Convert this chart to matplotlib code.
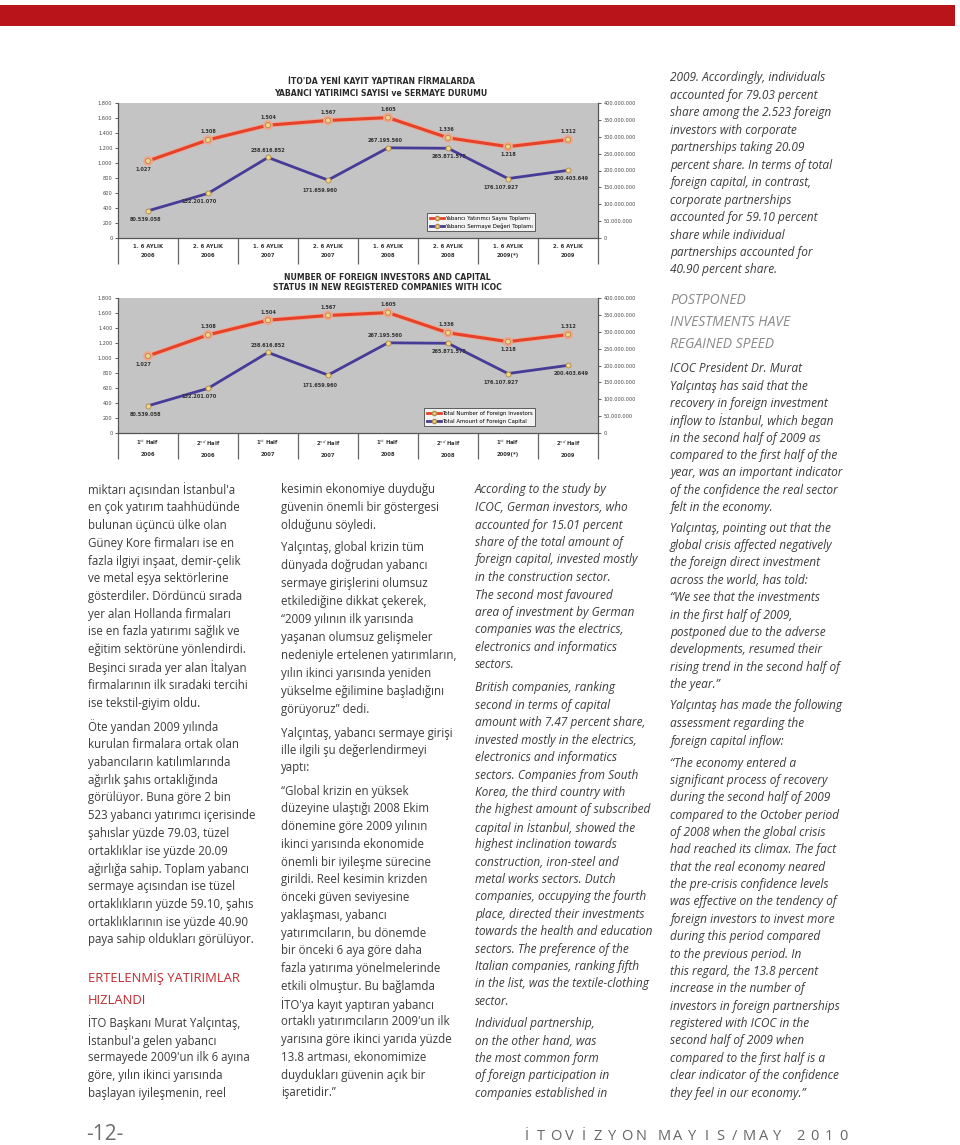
import matplotlib
matplotlib.use('Agg')
import matplotlib.pyplot as plt
from matplotlib.patches import Rectangle
from matplotlib.lines import Line2D
import matplotlib.patheffects as pe
import numpy as np

W, H = 960, 1145

# ---- chart data ----
periods_tr = ['1. 6 AYLIK\n2006', '2. 6 AYLIK\n2006', '1. 6 AYLIK\n2007', '2. 6 AYLIK\n2007',
              '1. 6 AYLIK\n2008', '2. 6 AYLIK\n2008', '1. 6 AYLIK\n2009(*)', '2. 6 AYLIK\n2009']
periods_en = [r'1$^{st}$ Half' + '\n2006', r'2$^{nd}$ Half' + '\n2006', r'1$^{st}$ Half' + '\n2007',
              r'2$^{nd}$ Half' + '\n2007', r'1$^{st}$ Half' + '\n2008', r'2$^{nd}$ Half' + '\n2008',
              r'1$^{st}$ Half' + '\n2009(*)', r'2$^{nd}$ Half' + '\n2009']
investors = [1027, 1308, 1504, 1567, 1605, 1336, 1218, 1312]
capital = [80539058, 132201070, 238616852, 171659960, 267195560, 265871575, 176107927, 200403649]

legend_tr = ['Yabancı Yatırımcı Sayısı Toplamı', 'Yabancı Sermaye Değeri Toplamı']
legend_en = ['Total Number of Foreign Investors', 'Total Amount of Foreign Capital']
title_tr = ["İTO'DA YENİ KAYIT YAPTIRAN FİRMALARDA", 'YABANCI YATIRIMCI SAYISI ve SERMAYE DURUMU']
title_en = ['NUMBER OF FOREIGN INVESTORS AND CAPITAL', 'STATUS IN NEW REGISTERED COMPANIES WITH ICOC']

# label offsets in pixels (dx, dy up)
red_off = [(-5, -9), (0, 8), (0, 8), (0, 8), (0, 8), (-2, 8), (0, -8), (0, 8)]
blue_off = [(-2, -9), (-9, -8), (0, 7), (-8, -10), (-3, 7), (1, -8), (-7, -9), (3, -8)]

RED = '#e4432a'
BLUE = '#463c98'
TXT = '#3c3c3c'
FONT = ['Open Sans', 'DejaVu Sans']


def fx(x):
    return x / W


def fy(y):
    return 1 - y / H


def dots(v):
    return f'{v:,}'.replace(',', '.')


fig = plt.figure(figsize=(W / 100, H / 100), dpi=100)
fig.patch.set_facecolor('white')

# red band at top
fig.add_artist(Rectangle((0, fy(26)), fx(955), 21 / H, transform=fig.transFigure,
                         facecolor='#b8141a', edgecolor='none'))


def draw_chart(top, title, title_y, xlabels, leg_labels, title_x):
    ax = fig.add_axes([fx(118), fy(top + 135), 480 / W, 135 / H])
    ax.set_facecolor('#c4c4c4')
    x = np.arange(len(investors))
    ax.plot(x, investors, color=RED, lw=2.2, marker='o', ms=3.6, mfc='#efd58c',
            mec='#b08a48', mew=0.6, zorder=3,
            path_effects=[pe.Stroke(linewidth=3.4, foreground='#f3a48e'), pe.Normal()])
    ax.set_ylim(0, 1800)
    ax.set_xlim(-0.5, 7.5)
    ax.set_yticks(np.arange(0, 1801, 200))
    ax.set_yticklabels([dots(v) for v in range(0, 1801, 200)])
    ax.set_xticks(x)
    ax.set_xticklabels(xlabels, fontsize=3.8, fontweight='bold', color='#333', linespacing=2.2)
    ax.set_xticks(np.arange(-0.5, 8), minor=True)
    ax.tick_params(axis='x', which='major', length=0, pad=4)
    ax.tick_params(axis='x', which='minor', length=19, width=0.9, color='#666')
    ax.tick_params(axis='y', labelsize=3.6, colors='#444', length=2.5, width=0.6, pad=1.5)
    for s in ['top', 'right']:
        ax.spines[s].set_visible(False)
    for s in ['left', 'bottom']:
        ax.spines[s].set_color('#555')
        ax.spines[s].set_linewidth(0.9)
    for i, v in enumerate(investors):
        ax.annotate(dots(v), (i, v), xytext=(red_off[i][0] * 0.72, red_off[i][1] * 0.72),
                    textcoords='offset points', ha='center', va='center',
                    fontsize=3.6, color='#333', fontweight='bold')

    ax2 = ax.twinx()
    ax2.plot(x, capital, color=BLUE, lw=2.0, marker='o', ms=3.6, mfc='#efd58c',
             mec='#b08a48', mew=0.6, zorder=3)
    ax2.set_ylim(0, 4e8)
    ax2.set_yticks(np.arange(0, 4e8 + 1, 5e7))
    ax2.set_yticklabels([dots(int(v)) for v in np.arange(0, 4e8 + 1, 5e7)])
    ax2.tick_params(axis='y', labelsize=3.6, colors='#444', length=2.5, width=0.6, pad=1.5)
    ax2.spines['top'].set_visible(False)
    ax2.spines['left'].set_visible(False)
    ax2.spines['bottom'].set_visible(False)
    ax2.spines['right'].set_color('#555')
    ax2.spines['right'].set_linewidth(0.9)
    for i, v in enumerate(capital):
        ax2.annotate(dots(v), (i, v), xytext=(blue_off[i][0] * 0.72, blue_off[i][1] * 0.72),
                     textcoords='offset points', ha='center', va='center',
                     fontsize=3.6, color='#333', fontweight='bold')

    handles = [Line2D([], [], color=RED, lw=2, marker='o', ms=3, mfc='#efd58c', mec='#b08a48'),
               Line2D([], [], color=BLUE, lw=2, marker='o', ms=3, mfc='#efd58c', mec='#b08a48')]
    leg = ax2.legend(handles, leg_labels, loc='lower right', bbox_to_anchor=(0.875, 0.03),
                     fontsize=3.9, frameon=True, fancybox=False, edgecolor='#222',
                     borderpad=0.5, handlelength=2.6, handletextpad=0.2, labelspacing=0.45)
    leg.get_frame().set_linewidth(0.6)

    for k, line in enumerate(title):
        fig.text(fx(title_x), fy(title_y + k * 11), line, ha='center', va='center',
                 fontsize=5.6, fontweight='bold', color='#2a2a2a')


draw_chart(103, title_tr, 82, periods_tr, legend_tr, 381)
draw_chart(298, title_en, 277, periods_en, legend_en, 387)


# ---- body text ----
def block(x, y0, lines, lh, **kw):
    opts = dict(fontsize=8.3, color=TXT, family=FONT, va='center', ha='left')
    opts.update(kw)
    for i, line in enumerate(lines):
        fig.text(fx(x), fy(y0 + i * lh), line, **opts)


c1a = ["miktarı açısından İstanbul'a", "en çok yatırım taahhüdünde", "bulunan üçüncü ülke olan",
       "Güney Kore firmaları ise en", "fazla ilgiyi inşaat, demir-çelik", "ve metal eşya sektörlerine",
       "gösterdiler. Dördüncü sırada", "yer alan Hollanda firmaları", "ise en fazla yatırımı sağlık ve",
       "eğitim sektörüne yönlendirdi.", "Beşinci sırada yer alan İtalyan",
       "firmalarının ilk sıradaki tercihi", "ise tekstil-giyim oldu."]
c1b = ["Öte yandan 2009 yılında", "kurulan firmalara ortak olan", "yabancıların katılımlarında",
       "ağırlık şahıs ortaklığında", "görülüyor. Buna göre 2 bin", "523 yabancı yatırımcı içerisinde",
       "şahıslar yüzde 79.03, tüzel", "ortaklıklar ise yüzde 20.09", "ağırlığa sahip. Toplam yabancı",
       "sermaye açısından ise tüzel", "ortaklıkların yüzde 59.10, şahıs",
       "ortaklıklarının ise yüzde 40.90", "paya sahip oldukları görülüyor."]
c1h = ["ERTELENMİŞ YATIRIMLAR", "HIZLANDI"]
c1c = ["İTO Başkanı Murat Yalçıntaş,", "İstanbul'a gelen yabancı", "sermayede 2009'un ilk 6 ayına",
       "göre, yılın ikinci yarısında", "başlayan iyileşmenin, reel"]

c2a = ["kesimin ekonomiye duyduğu", "güvenin önemli bir göstergesi", "olduğunu söyledi."]
c2b = ["Yalçıntaş, global krizin tüm", "dünyada doğrudan yabancı", "sermaye girişlerini olumsuz",
       "etkilediğine dikkat çekerek,", "“2009 yılının ilk yarısında", "yaşanan olumsuz gelişmeler",
       "nedeniyle ertelenen yatırımların,", "yılın ikinci yarısında yeniden",
       "yükselme eğilimine başladığını", "görüyoruz” dedi."]
c2c = ["Yalçıntaş, yabancı sermaye girişi", "ille ilgili şu değerlendirmeyi", "yaptı:"]
c2d = ["“Global krizin en yüksek", "düzeyine ulaştığı 2008 Ekim", "dönemine göre 2009 yılının",
       "ikinci yarısında ekonomide", "önemli bir iyileşme sürecine", "girildi. Reel kesimin krizden",
       "önceki güven seviyesine", "yaklaşması, yabancı", "yatırımcıların, bu dönemde",
       "bir önceki 6 aya göre daha", "fazla yatırıma yönelmelerinde", "etkili olmuştur. Bu bağlamda",
       "İTO'ya kayıt yaptıran yabancı", "ortaklı yatırımcıların 2009'un ilk",
       "yarısına göre ikinci yarıda yüzde", "13.8 artması, ekonomimize", "duydukları güvenin açık bir",
       "işaretidir.”"]

c3a = ["According to the study by", "ICOC, German investors, who", "accounted for 15.01 percent",
       "share of the total amount of", "foreign capital, invested mostly", "in the construction sector.",
       "The second most favoured", "area of investment by German", "companies was the electrics,",
       "electronics and informatics", "sectors."]
c3b = ["British companies, ranking", "second in terms of capital", "amount with 7.47 percent share,",
       "invested mostly in the electrics,", "electronics and informatics", "sectors. Companies from South",
       "Korea, the third country with", "the highest amount of subscribed",
       "capital in İstanbul, showed the", "highest inclination towards", "construction, iron-steel and",
       "metal works sectors. Dutch", "companies, occupying the fourth", "place, directed their investments",
       "towards the health and education", "sectors. The preference of the",
       "Italian companies, ranking fifth", "in the list, was the textile-clothing", "sector."]
c3c = ["Individual partnership,", "on the other hand, was", "the most common form",
       "of foreign participation in", "companies established in"]

c4a = ["2009. Accordingly, individuals", "accounted for 79.03 percent", "share among the 2.523 foreign",
       "investors with corporate", "partnerships taking 20.09", "percent share. In terms of total",
       "foreign capital, in contrast,", "corporate partnerships", "accounted for 59.10 percent",
       "share while individual", "partnerships accounted for", "40.90 percent share."]
c4h = ["POSTPONED", "INVESTMENTS HAVE", "REGAINED SPEED"]
c4b = ["ICOC President Dr. Murat", "Yalçıntaş has said that the", "recovery in foreign investment",
       "inflow to İstanbul, which began", "in the second half of 2009 as",
       "compared to the first half of the", "year, was an important indicator",
       "of the confidence the real sector", "felt in the economy."]
c4c = ["Yalçıntaş, pointing out that the", "global crisis affected negatively",
       "the foreign direct investment", "across the world, has told:", "“We see that the investments",
       "in the first half of 2009,", "postponed due to the adverse", "developments, resumed their",
       "rising trend in the second half of", "the year.”"]
c4d = ["Yalçıntaş has made the following", "assessment regarding the", "foreign capital inflow:"]
c4e = ["“The economy entered a", "significant process of recovery", "during the second half of 2009",
       "compared to the October period", "of 2008 when the global crisis",
       "had reached its climax. The fact", "that the real economy neared",
       "the pre-crisis confidence levels", "was effective on the tendency of",
       "foreign investors to invest more", "during this period compared", "to the previous period. In",
       "this regard, the 13.8 percent", "increase in the number of", "investors in foreign partnerships",
       "registered with ICOC in the", "second half of 2009 when", "compared to the first half is a",
       "clear indicator of the confidence", "they feel in our economy.”"]

# column 1
block(88, 490, c1a, 17.75)
block(88, 727, c1b, 17.75)
block(88, 978, c1h, 22, fontsize=9.4, color='#c42a2f')
block(88, 1023, c1c, 17.5)
# column 2
block(281, 490, c2a, 17.5)
block(281, 548, c2b, 18)
block(281, 733, c2c, 17.5)
block(281, 791, c2d, 17.76)
# column 3
it = dict(style='italic', fontsize=8.6)
block(475, 490, c3a, 17.5, **it)
block(475, 688, c3b, 17.4, **it)
block(475, 1024, c3c, 17.3, **it)
# column 4
block(670, 78, c4a, 17.45, **it)
block(670, 301, c4h, 21.5, fontsize=10, color='#8a8a8a', style='italic')
block(670, 369, c4b, 17.3, **it)
block(670, 528, c4c, 17.4, **it)
block(670, 706, c4d, 17.5, **it)
block(670, 763, c4e, 17.37, **it)

# footer
fig.text(fx(86), fy(1135), '-12-', fontsize=15, color='#6e6e6e',
         family=FONT, va='center', ha='left')
footer = 'İTOVİZYON MAYIS/MAY 2010'
xpos = 527
for ch in footer:
    if ch == ' ':
        xpos += 9
        continue
    fig.text(fx(xpos), fy(1136), ch, fontsize=10.5, color='#666666',
             family=FONT, va='center', ha='center')
    xpos += 14.2

fig.savefig('out.png', dpi=100, facecolor='white')
